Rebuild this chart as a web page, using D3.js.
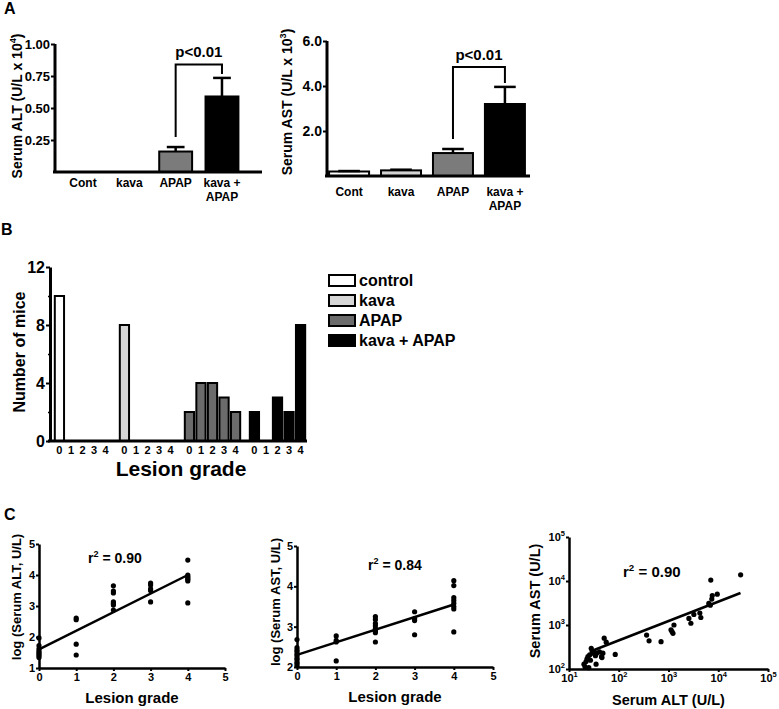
<!DOCTYPE html>
<html><head><meta charset="utf-8">
<script src="https://cdn.jsdelivr.net/npm/d3@7"></script>
<style>
body{margin:0;background:#fff;}
svg{font-family:"Liberation Sans",Arial,Helvetica,sans-serif;font-weight:bold;}
</style></head><body>
<svg id="chart" width="779" height="709"></svg>
<script>
// ---------- DATA ----------
// Panel A
const aCategories = ["Cont", "kava", "APAP", "kava + APAP"];
const aFills = ["#ffffff", "#d3d3d3", "#7b7b7b", "#000000"];
const altMean = [0, 0, 0.16, 0.59];
const altSem = [0, 0, 0.035, 0.145];
const altTicks = [0.25, 0.50, 0.75, 1.00];
const astMean = [0.2, 0.25, 1.02, 3.2];
const astSem = [0.02, 0.03, 0.18, 0.76];
const astTicks = [2, 4, 6];
const altBracket = 0.84;   // bracket height (ALT units)
const astBracket = 4.84;   // bracket height (AST units)
// Panel B
const bGroups = ["control", "kava", "APAP", "kava + APAP"];
const bFills = ["#ffffff", "#d6d6d6", "#6b6b6b", "#000000"];
const bGrades = [0, 1, 2, 3, 4];
const bCounts = [
  [10, 0, 0, 0, 0],
  [8, 0, 0, 0, 0],
  [2, 4, 4, 3, 2],
  [2, 0, 3, 2, 8]
];
const bTicks = [0, 4, 8, 12];
const bMinorTicks = [2, 6, 10];
// Panel C1: lesion grade vs log ALT
const c1Grade = [0,0,0,0,0,0,0,0, 1,1,1,1, 2,2,2,2,2,2,2, 3,3,3,3,3, 4,4,4,4,4,4,4];
const c1LogAlt = [1.97,1.72,1.62,1.55,1.5,1.45,1.4,1.34, 2.61,2.56,1.77,1.42,
  3.65,3.48,3.42,3.13,3.08,3.03,2.87, 3.74,3.68,3.55,3.5,3.13, 4.48,4.0,3.95,3.9,3.86,3.81,3.1];
const c1FitX = [0, 4];
const c1FitY = [1.6, 4.0];
// Panel C2: lesion grade vs log AST
const c2Grade = [0,0,0,0,0,0,0,0,0,0,0, 1,1,1,1, 2,2,2,2,2,2,2,2, 3,3,3,3, 4,4,4,4,4,4,4,4];
const c2LogAst = [2.68,2.48,2.42,2.38,2.32,2.28,2.22,2.18,2.12,2.08,2.03,
  2.77,2.66,2.62,2.15, 3.25,3.18,3.08,3.02,2.95,2.9,2.85,2.62,
  3.37,3.2,3.15,2.8, 4.14,4.02,3.72,3.65,3.58,3.5,3.44,2.87];
const c2FitX = [0, 4];
const c2FitY = [2.3, 3.55];
// Panel C3: serum ALT vs serum AST (U/L)
const c3Alt = [20,21,22,23,24,25,26,27,28,30,32,34,35,36,41,45,46,48,51,56,85,
  363,407,708,1122,1175,1230,1288,2570,2818,3236,4266,4467,6457,6918,7079,7413,7586,9550,28184];
const c3Ast = [129,112,148,170,191,107,209,158,295,229,245,200,129,229,245,191,182,229,501,407,214,
  589,437,417,776,708,646,1000,1413,1096,1738,1862,1479,3090,2818,10471,3890,4677,5012,13804];
const c3FitX = [26, 28000];
const c3FitY = [247, 5330];
const logTicksX = [10, 100, 1000, 10000, 100000];
const logTicksY = [100, 1000, 10000, 100000];

// ---------- DRAWING ----------
const svg = d3.select("#chart");
const FONT = '"Liberation Sans",Arial,Helvetica,sans-serif';

function styleAxis(g, fs, dw) {
  g.attr("font-family", FONT).attr("font-size", fs).attr("font-weight", "bold");
  g.select(".domain").attr("stroke-width", dw).attr("stroke", "#000");
  g.selectAll(".tick line").attr("stroke-width", 2).attr("stroke", "#000");
  g.selectAll(".tick text").attr("fill", "#000");
}
function rotLabel(x, y, size, parts) {
  const t = svg.append("text").attr("transform", `translate(${x},${y}) rotate(-90)`)
    .attr("text-anchor", "middle").attr("font-size", size).attr("font-weight", "bold");
  parts.forEach(p => {
    const s = t.append("tspan").text(p.t);
    if (p.sup) s.attr("dy", -size * 0.4).attr("font-size", size * 0.65);
    if (p.after) s.attr("dy", size * 0.4);
  });
  return t;
}
function panelLetter(x, y, s) {
  svg.append("text").attr("x", x).attr("y", y).attr("font-size", 16).attr("font-weight", "bold").text(s);
}

// ===== Panel A =====
panelLetter(4, 14, "A");
function barPanel(cfg) {
  const y = d3.scaleLinear().domain(cfg.yDomain).range(cfg.yRange);
  const x = d3.scaleBand().domain(aCategories).range(cfg.xRange)
    .paddingInner(cfg.pi).paddingOuter(cfg.po);
  const g = svg.append("g");
  g.selectAll("rect.bar").data(aCategories).join("rect")
    .attr("x", d => x(d)).attr("width", x.bandwidth())
    .attr("y", (d, i) => y(cfg.mean[i])).attr("height", (d, i) => y(0) - y(cfg.mean[i]))
    .attr("fill", (d, i) => aFills[i]).attr("stroke", "#000").attr("stroke-width", 2);
  aCategories.forEach((d, i) => {
    if (cfg.sem[i] <= 0) return;
    const cx = x(d) + x.bandwidth() / 2, hw = x.bandwidth() * 0.27;
    g.append("line").attr("x1", cx).attr("x2", cx).attr("y1", y(cfg.mean[i])).attr("y2", y(cfg.mean[i] + cfg.sem[i]))
      .attr("stroke", "#000").attr("stroke-width", 2.5);
    g.append("line").attr("x1", cx - hw).attr("x2", cx + hw)
      .attr("y1", y(cfg.mean[i] + cfg.sem[i])).attr("y2", y(cfg.mean[i] + cfg.sem[i]))
      .attr("stroke", "#000").attr("stroke-width", 2.5);
  });
  const ya = g.append("g").attr("transform", `translate(${cfg.xRange[0]},0)`)
    .call(d3.axisLeft(y).tickValues(cfg.ticks).tickFormat(d3.format(cfg.fmt)).tickSize(4).tickSizeOuter(0).tickPadding(1));
  ya.select(".domain").attr("d", `M0,${y(0)}V${y(cfg.yDomain[1])}`);
  styleAxis(ya, cfg.tickFs, 3);
  g.append("line").attr("x1", cfg.xRange[0] - 2).attr("x2", cfg.axisEnd).attr("y1", y(0)).attr("y2", y(0))
    .attr("stroke", "#000").attr("stroke-width", 3);
  aCategories.forEach((d, i) => {
    const cx = x(d) + x.bandwidth() / 2;
    const t = g.append("text").attr("x", cx).attr("y", cfg.labY).attr("text-anchor", "middle")
      .attr("font-size", 12).attr("font-weight", "bold");
    const parts = d === "kava + APAP" ? ["kava +", "APAP"] : [d];
    parts.forEach((p, k) => t.append("tspan").attr("x", cx).attr("dy", k ? 14 : 0).text(p));
  });
  const i1 = 2, i2 = 3;
  const x1 = x(aCategories[i1]) + x.bandwidth() / 2, x2 = x(aCategories[i2]) + x.bandwidth() / 2;
  const yb = y(cfg.bracket);
  g.append("path").attr("fill", "none").attr("stroke", "#000").attr("stroke-width", 2)
    .attr("d", `M${x1},${y(cfg.mean[i1] + cfg.sem[i1]) - 10}V${yb}H${x2}V${y(cfg.mean[i2] + cfg.sem[i2]) - 4}`);
  g.append("text").attr("x", (x1 + x2) / 2).attr("y", yb - 7).attr("text-anchor", "middle")
    .attr("font-size", 15).attr("font-weight", "bold").text("p<0.01");
}
barPanel({ yDomain: [0, 1], yRange: [172, 44], xRange: [55, 250], pi: 0.29, po: 0.25, axisEnd: 262,
  mean: altMean, sem: altSem, ticks: altTicks, fmt: ".2f", tickFs: 13, labY: 187, bracket: altBracket });
barPanel({ yDomain: [0, 6], yRange: [176, 41], xRange: [327, 527], pi: 0.23, po: 0.04, axisEnd: 530,
  mean: astMean, sem: astSem, ticks: astTicks, fmt: ".1f", tickFs: 14, labY: 196, bracket: astBracket });
rotLabel(22, 106, 14, [{ t: "Serum ALT (U/L x 10" }, { t: "4", sup: true }, { t: ")", after: true }]);
rotLabel(292, 102, 14, [{ t: "Serum AST (U/L x 10" }, { t: "3", sup: true }, { t: ")", after: true }]);

// ===== Panel B =====
panelLetter(1, 235, "B");
(function () {
  const y = d3.scaleLinear().domain([0, 12]).range([441, 267]);
  const xg = d3.scaleBand().domain(bGroups).range([50, 310]).paddingInner(0.077).paddingOuter(0.0385);
  const xi = d3.scaleBand().domain(bGrades).range([0, xg.bandwidth()]).paddingInner(0.2).paddingOuter(0.2);
  const g = svg.append("g");
  bGroups.forEach((grp, gi) => {
    const gg = g.append("g").attr("transform", `translate(${xg(grp)},0)`);
    gg.selectAll("rect").data(bGrades.filter(k => bCounts[gi][k] > 0)).join("rect")
      .attr("x", k => xi(k)).attr("width", xi.bandwidth())
      .attr("y", k => y(bCounts[gi][k])).attr("height", k => y(0) - y(bCounts[gi][k]))
      .attr("fill", bFills[gi]).attr("stroke", "#000").attr("stroke-width", 2);
    gg.selectAll("text").data(bGrades).join("text")
      .attr("x", k => xi(k) + xi.bandwidth() / 2).attr("y", 454).attr("text-anchor", "middle")
      .attr("font-size", 11).attr("font-weight", "bold").text(k => k);
  });
  const ya = g.append("g").attr("transform", "translate(50,0)")
    .call(d3.axisLeft(y).tickValues(bTicks).tickSize(4).tickSizeOuter(0).tickPadding(1));
  styleAxis(ya, 16, 3);
  const ym = g.append("g").attr("transform", "translate(50,0)")
    .call(d3.axisLeft(y).tickValues(bMinorTicks).tickFormat("").tickSize(2).tickSizeOuter(0));
  ym.select(".domain").remove();
  ym.selectAll(".tick line").attr("stroke-width", 1.5);
  g.append("line").attr("x1", 48).attr("x2", 307).attr("y1", y(0)).attr("y2", y(0))
    .attr("stroke", "#000").attr("stroke-width", 3);
  svg.append("text").attr("x", 181).attr("y", 476).attr("text-anchor", "middle")
    .attr("font-size", 21).attr("font-weight", "bold").text("Lesion grade");
  rotLabel(25, 352, 16, [{ t: "Number of mice" }]);
  const lg = svg.append("g").attr("transform", "translate(329,275)");
  bGroups.forEach((grp, i) => {
    lg.append("rect").attr("x", 0).attr("y", i * 20).attr("width", 26).attr("height", 11)
      .attr("fill", bFills[i]).attr("stroke", "#000").attr("stroke-width", 2);
    lg.append("text").attr("x", 30).attr("y", i * 20 + 11).attr("font-size", 16)
      .attr("font-weight", "bold").text(grp);
  });
})();

// ===== Panel C =====
panelLetter(4, 520, "C");
function scatterPanel(cfg) {
  const g = svg.append("g");
  const x = cfg.x, y = cfg.y;
  g.selectAll("circle").data(cfg.xs).join("circle")
    .attr("cx", d => x(d)).attr("cy", (d, i) => y(cfg.ys[i])).attr("r", 2.6).attr("fill", "#000");
  g.append("line").attr("x1", x(cfg.fitX[0])).attr("y1", y(cfg.fitY[0]))
    .attr("x2", x(cfg.fitX[1])).attr("y2", y(cfg.fitY[1])).attr("stroke", "#000").attr("stroke-width", 2.5);
  const xAxis = d3.axisBottom(x).tickValues(cfg.xTicks).tickSize(3).tickSizeOuter(0).tickPadding(2);
  const yAxis = d3.axisLeft(y).tickValues(cfg.yTicks).tickSize(3).tickSizeOuter(0).tickPadding(1);
  if (!cfg.log) { xAxis.tickFormat(d3.format("d")); yAxis.tickFormat(d3.format("d")); }
  const xa = g.append("g").attr("transform", `translate(0,${y.range()[0]})`).call(xAxis);
  styleAxis(xa, 11, 2.5);
  const ya = g.append("g").attr("transform", `translate(${x.range()[0]},0)`).call(yAxis);
  styleAxis(ya, 11, 2.5);
  if (cfg.log) {
    [xa, ya].forEach(a => a.selectAll(".tick text").each(function (d) {
      const t = d3.select(this); t.text(null);
      t.append("tspan").text("10");
      t.append("tspan").attr("dy", -5).attr("font-size", 7.5).text(Math.round(Math.log10(d)));
    }));
  }
  const t = g.append("text").attr("x", cfg.rX).attr("y", cfg.rY).attr("font-size", cfg.rFs).attr("font-weight", "bold");
  t.append("tspan").text("r");
  t.append("tspan").attr("dy", -6).attr("font-size", cfg.rFs * 0.65).text("2");
  t.append("tspan").attr("dy", 6).text(" = " + cfg.r2);
  svg.append("text").attr("x", (x.range()[0] + x.range()[1]) / 2).attr("y", cfg.xLabY)
    .attr("text-anchor", "middle").attr("font-size", cfg.xLabFs).attr("font-weight", "bold").text(cfg.xLab);
  rotLabel(cfg.yLabX, cfg.yLabY, cfg.yLabFs, [{ t: cfg.yLab }]);
}
scatterPanel({
  x: d3.scaleLinear().domain([0, 5]).range([39, 225]),
  y: d3.scaleLinear().domain([1, 5]).range([668, 544]),
  xs: c1Grade, ys: c1LogAlt, fitX: c1FitX, fitY: c1FitY,
  xTicks: [0, 1, 2, 3, 4, 5], yTicks: [1, 2, 3, 4, 5],
  r2: "0.90", rX: 88, rY: 563, rFs: 14,
  xLab: "Lesion grade", xLabY: 703, xLabFs: 15,
  yLab: "log (Serum ALT, U/L)", yLabX: 21, yLabY: 597, yLabFs: 13
});
scatterPanel({
  x: d3.scaleLinear().domain([0, 5]).range([297, 493]),
  y: d3.scaleLinear().domain([2, 5]).range([667, 546]),
  xs: c2Grade, ys: c2LogAst, fitX: c2FitX, fitY: c2FitY,
  xTicks: [0, 1, 2, 3, 4, 5], yTicks: [2, 3, 4, 5],
  r2: "0.84", rX: 368, rY: 570, rFs: 14,
  xLab: "Lesion grade", xLabY: 702, xLabFs: 15,
  yLab: "log (Serum AST, U/L)", yLabX: 280, yLabY: 602, yLabFs: 13
});
scatterPanel({
  x: d3.scaleLog().domain([10, 100000]).range([569, 768]),
  y: d3.scaleLog().domain([100, 100000]).range([669, 537]),
  xs: c3Alt, ys: c3Ast, fitX: c3FitX, fitY: c3FitY, log: true,
  xTicks: logTicksX, yTicks: logTicksY,
  r2: "0.90", rX: 623, rY: 577, rFs: 15,
  xLab: "Serum ALT (U/L)", xLabY: 705, xLabFs: 14.5,
  yLab: "Serum AST (U/L)", yLabX: 540, yLabY: 601, yLabFs: 14.5
});
</script>
</body></html>
